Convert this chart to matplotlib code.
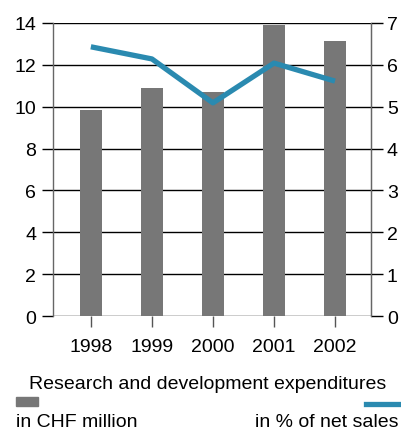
import matplotlib
matplotlib.use("Agg")
from matplotlib import pyplot as plt
from matplotlib.patches import Rectangle
from matplotlib.lines import Line2D

plt.rcParams["font.family"] = ["Liberation Sans", "DejaVu Sans"]

years = ["1998", "1999", "2000", "2001", "2002"]
chf_million = [9.85, 10.9, 10.7, 13.9, 13.15]
pct_net_sales = [6.43, 6.14, 5.09, 6.04, 5.61]

left_ticks = [0, 2, 4, 6, 8, 10, 12, 14]
right_ticks = [0, 1, 2, 3, 4, 5, 6, 7]

bar_color = "#777777"
line_color = "#2a8ab0"

fig = plt.figure(figsize=(4.01, 4.31), dpi=100)
ax = fig.add_axes([0.1322, 0.2645, 0.793, 0.680])
x = list(range(len(years)))

ax.bar(x, chf_million, width=0.36, color=bar_color, zorder=2)
ax.set_xlim(-0.62, 4.59)
ax.set_ylim(0, 14)
ax.set_yticks(left_ticks)
ax.set_xticks(x)
ax.set_xticklabels(years)
ax.yaxis.grid(True, color="black", linewidth=1.0, zorder=1)
ax.set_axisbelow(True)
ax.tick_params(axis="y", direction="out", length=8, width=1.0, color="black",
               labelsize=14, pad=4)
ax.tick_params(axis="x", direction="out", length=8, width=1.0, color="#555555",
               labelsize=14, pad=8)
ax.spines["top"].set_visible(False)
ax.spines["bottom"].set_visible(False)
for s in ["left", "right"]:
    ax.spines[s].set_color("#666666")
    ax.spines[s].set_linewidth(1.0)

ax2 = ax.twinx()
ax2.plot(x, pct_net_sales, color=line_color, linewidth=3.8, solid_capstyle="butt",
         zorder=3)
ax2.set_ylim(0, 7)
ax2.set_yticks(right_ticks)
ax2.tick_params(axis="y", direction="out", length=8.5, width=1.0, color="black",
                labelsize=14, pad=3)
for s in ["top", "bottom", "left"]:
    ax2.spines[s].set_visible(False)
ax2.spines["right"].set_color("#666666")

# legend block
fig.text(0.517, 0.107, "Research and development expenditures", ha="center",
         va="center", fontsize=14)
fig.patches.append(Rectangle((0.04, 0.055), 0.055, 0.022, transform=fig.transFigure,
                             color=bar_color))
fig.lines.append(Line2D([0.913, 1.0], [0.06, 0.06], transform=fig.transFigure,
                        color=line_color, linewidth=3.8))
fig.text(0.04, 0.02, "in CHF million", ha="left", va="center", fontsize=14)
fig.text(0.636, 0.02, "in % of net sales", ha="left", va="center", fontsize=14)

fig.savefig("out.png", dpi=100)
